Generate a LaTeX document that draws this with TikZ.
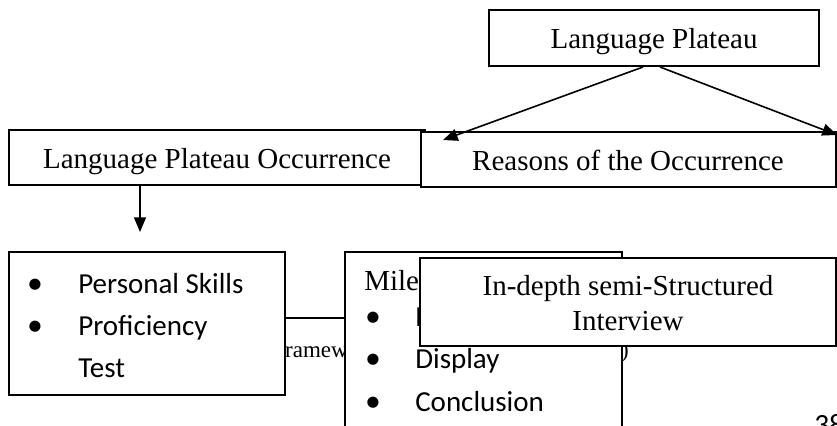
\documentclass[tikz,border=0pt]{standalone}
\usepackage{fontspec}
\setmainfont{Liberation Serif}
\newfontfamily\calibrifont{Carlito}
\newfontfamily\symfont{DejaVu Sans}
\usetikzlibrary{arrows.meta}
\newcommand\pxu{0.75pt}
\begin{document}
\begin{tikzpicture}[x=0.75pt,y=-0.75pt,
  box/.style={draw, line width=1.5pt, fill=white, inner sep=0pt},
  conn/.style={line width=1.2pt},
  tip/.style={conn, -{Triangle[length=11pt,width=9pt]}},
  tnrc/.style={font=\fontsize{21.75}{26}\selectfont, inner sep=0pt, anchor=base},
  tnr/.style={font=\fontsize{21.75}{26}\selectfont, inner sep=0pt, anchor=base west},
  cal/.style={font=\calibrifont\fontsize{21.75}{26}\selectfont, inner sep=0pt, anchor=base west},
  bul/.style={font=\symfont\fontsize{11}{11}\selectfont, inner sep=0pt, anchor=center},
  captxt/.style={font=\fontsize{17.25}{20}\selectfont, inner sep=0pt, anchor=base east},
]
\useasboundingbox (0,0) rectangle (837,425);

% caption text, mostly hidden behind the lower boxes
\node[captxt] (cap) at (629,357) {Framework of the Study (Researchers)};
% page number, cut by the page edge
\node[font=\calibrifont\fontsize{22}{24}\selectfont, inner sep=0pt, anchor=north west] (pg) at (814,414) {38};

% top row
\node[box, minimum width=416*\pxu, minimum height=55*\pxu] (lpo) at (217,157.5) {};
\node[tnrc] (lpot) at (217,168) {Language Plateau Occurrence};
\node[box, minimum width=415*\pxu, minimum height=55*\pxu] (reas) at (628.5,159.5) {};
\node[tnrc] (reast) at (628,170) {Reasons of the Occurrence};
\node[box, minimum width=330*\pxu, minimum height=56*\pxu] (lp) at (654,38) {};
\node[tnrc] (lpt) at (654,48) {Language Plateau};

\coordinate (tipL) at (443,140);
\coordinate (tipR) at (837,135);
\draw[tip] ([xshift=-11*\pxu]lp.south) -- (tipL);
\draw[tip] ([xshift=6*\pxu]lp.south) -- (tipR);

\coordinate (downtip) at (140,232);
\draw[tip] (lpo.south -| downtip) -- (downtip);

% bottom row
\node[box, minimum width=276*\pxu, minimum height=143*\pxu] (lb) at (147,323.5) {};
\node[box, minimum width=277*\pxu, minimum height=188*\pxu] (mb) at (483.5,346) {};
\draw[conn] (lb.east |- 0,318) -- (mb.west |- 0,318);

\node[bul] (b1) at (35,285) {●};
\node[cal] (t1) at (78,293) {Personal Skills};
\node[bul] (b2) at (35,327) {●};
\node[cal] (t2) at (78,335) {Proficiency};
\node[cal] (t3) at (78,377) {Test};

\node[tnr] (mt) at (364,290) {Miles and Huberman};
\node[bul] (m1b) at (373,318) {●};
\node[cal] (m1) at (415,326) {Reduction};
\node[bul] (m2b) at (373,360) {●};
\node[cal] (m2) at (415,368) {Display};
\node[bul] (m3b) at (373,403) {●};
\node[cal] (m3) at (415,411) {Conclusion};

\node[box, minimum width=416*\pxu, minimum height=88*\pxu] (idi) at (628,302) {};
\node[tnrc] (idi1) at (628,295) {In-depth semi-Structured};
\node[tnrc] (idi2) at (628,330) {Interview};
\end{tikzpicture}
\end{document}
